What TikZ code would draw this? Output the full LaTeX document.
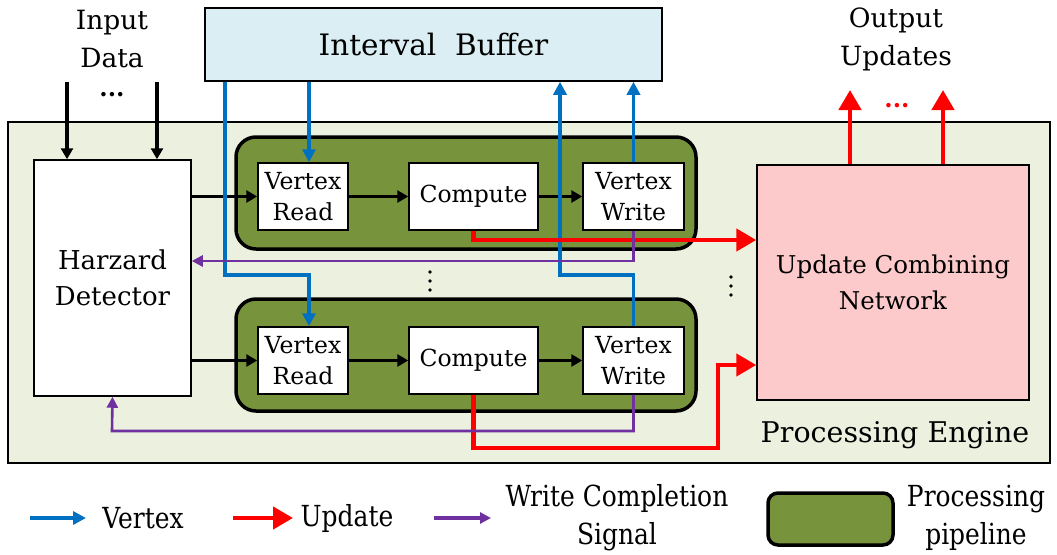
\documentclass[tikz,border=0pt]{standalone}
\usepackage{fontspec}
\setmainfont{DejaVu Serif}
\newfontfamily\legfont{DejaVu Serif}[FakeStretch=0.86]
\usetikzlibrary{arrows.meta}
\definecolor{bufcol}{HTML}{DAEEF3}
\definecolor{engcol}{HTML}{EBF1DE}
\definecolor{pipecol}{HTML}{77933C}
\definecolor{ucncol}{HTML}{FCCACA}
\definecolor{vtxcol}{HTML}{0070C0}
\definecolor{updcol}{HTML}{FF0000}
\definecolor{sigcol}{HTML}{7030A0}
\tikzset{
  box/.style={draw=black, line width=1.5pt, inner sep=0pt, align=center},
  stagebox/.style={box, fill=white, minimum height=67pt, font=\fontsize{23.5}{31}\selectfont},
  pipebox/.style={draw=black, line width=3.5pt, fill=pipecol, rounded corners=20pt, minimum width=460pt, minimum height=112pt, inner sep=0pt},
  blk/.style={line width=3.2pt, -{Triangle[length=11pt,width=12pt]}},
  vtx/.style={draw=vtxcol, line width=3.8pt, -{Triangle[length=13pt,width=13pt]}},
  upd/.style={draw=updcol, line width=4.5pt, -{Triangle[length=20pt,width=22pt]}},
  sig/.style={draw=sigcol, line width=2.6pt, -{Triangle[length=11pt,width=11pt]}},
  lbl/.style={align=center, inner sep=0pt},
  leglbl/.style={lbl, font=\legfont\fontsize{29}{38}\selectfont},
}
\begin{document}
\begin{tikzpicture}[x=1pt,y=-1pt]
\useasboundingbox (0,0) rectangle (1057,554);

% processing engine frame
\node[box, fill=engcol, line width=2.5pt, minimum width=1042pt, minimum height=341pt] (eng) at (529,292.5) {};
\node[lbl, font=\fontsize{28.5}{34}\selectfont, anchor=center] (englbl) at (895,435) {Processing Engine};

% interval buffer
\node[box, fill=bufcol, minimum width=457pt, minimum height=73pt, font=\fontsize{29.5}{35}\selectfont] (buf) at (433.5,44.5) {Interval\ \ Buffer};

% hazard detector
\node[box, fill=white, minimum width=157pt, minimum height=236pt, font=\fontsize{26}{36}\selectfont] (hd) at (112.5,278) {Harzard\\Detector};

% update combining network
\node[box, fill=ucncol, minimum width=272pt, minimum height=235pt, font=\fontsize{24.5}{36}\selectfont] (ucn) at (893,282.5) {Update Combining\\Network};

% pipelines
\node[pipebox] (p1) at (466,193) {};
\node[pipebox] (p2) at (466,355) {};

\node[stagebox, minimum width=90pt] (vr1) at (303,196.5) {Vertex\\Read};
\node[stagebox, minimum width=129pt] (c1) at (473.5,196.5) {Compute};
\node[stagebox, minimum width=101pt] (vw1) at (633.5,196.5) {Vertex\\Write};

\node[stagebox, minimum width=90pt] (vr2) at (303,360.5) {Vertex\\Read};
\node[stagebox, minimum width=129pt] (c2) at (473.5,360.5) {Compute};
\node[stagebox, minimum width=101pt] (vw2) at (633.5,360.5) {Vertex\\Write};

% input / output labels
\node[lbl, font=\fontsize{26.5}{38}\selectfont] (inlbl) at (112,39) {Input\\Data};
\node[lbl, font=\fontsize{26.5}{38}\selectfont] (outlbl) at (896,39) {Output\\Updates};
\node[lbl, font=\bfseries\fontsize{24}{24}\selectfont] (indots) at (112,95) {...};
\node[lbl, font=\bfseries\fontsize{24}{24}\selectfont, text=updcol] (outdots) at (897,106) {...};

% vertical ellipses between pipelines
\foreach \yy in {272,281,290} \fill (430,\yy) circle (1.8pt);
\foreach \yy in {277,286,295} \fill (731,\yy) circle (1.8pt);

% free ends
\coordinate (in1) at (67,82);
\coordinate (in2) at (157,82);
\coordinate (out1) at (850,90);
\coordinate (out2) at (943,90);
\coordinate (bx1) at (225,275);
\coordinate (bx2) at (560,275);
\coordinate (r1) at (0,240);
\coordinate (r2a) at (718,448);
\coordinate (r2b) at (0,365);
\coordinate (s1) at (0,261);
\coordinate (s2) at (112,431);

% data flow
\draw[blk] (in1) -- (in1 |- hd.north);
\draw[blk] (in2) -- (in2 |- hd.north);
\draw[blk] (hd.east |- vr1) -- (vr1.west);
\draw[blk] (hd.east |- vr2) -- (vr2.west);
\draw[blk] (vr1) -- (c1);
\draw[blk] (c1) -- (vw1);
\draw[blk] (vr2) -- (c2);
\draw[blk] (c2) -- (vw2);

% vertex traffic
\draw[vtx] ([xshift=6pt]vr1.north |- buf.south) -- ([xshift=6pt]vr1.north);
\draw[vtx] (bx1 |- buf.south) -- (bx1) -| ([xshift=6pt]vr2.north);
\draw[vtx] (vw1.north) -- (vw1.north |- buf.south);
\draw[vtx] (vw2.north) |- (bx2) -- (bx2 |- buf.south);

% updates
\draw[upd] (c1.south) |- (ucn.west |- r1);
\draw[upd] (c2.south) |- (r2a) -- (r2a |- r2b) -- (ucn.west |- r2b);
\draw[upd] (ucn.north -| out1) -- (out1);
\draw[upd] (ucn.north -| out2) -- (out2);

% write completion signals
\draw[sig] (vw1.south) |- (hd.east |- s1);
\draw[sig] (vw2.south) |- (s2) -- (hd.south);

% legend
\coordinate (lb1) at (30,518);  \coordinate (lb2) at (86,518);
\coordinate (lr1) at (233,518); \coordinate (lr2) at (293,518);
\coordinate (lp1) at (434,518); \coordinate (lp2) at (491,518);
\draw[vtx] (lb1) -- (lb2);
\draw[upd] (lr1) -- (lr2);
\draw[sig, line width=3.2pt] (lp1) -- (lp2);
\node[leglbl] (lgv) at (143,518) {Vertex};
\node[leglbl] (lgu) at (347,518) {Update};
\node[leglbl] (lgs) at (617,518) {Write Completion\\Signal};
\node[pipebox, minimum width=125pt, minimum height=52pt, rounded corners=10pt] (lgbox) at (830.5,519) {};
\node[leglbl] (lgp) at (976,518) {Processing\\pipeline};
\end{tikzpicture}
\end{document}
